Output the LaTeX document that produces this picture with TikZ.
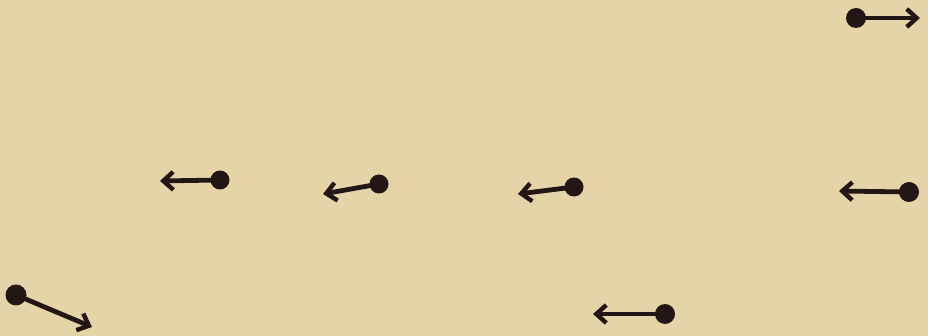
\documentclass[tikz,border=0pt]{standalone}
\usetikzlibrary{arrows.meta}
\definecolor{paper}{HTML}{E6D4A9}
\definecolor{ink}{HTML}{221714}
\begin{document}
\begin{tikzpicture}[x=1pt,y=-1pt,
  dotnode/.style={circle,fill=ink,inner sep=0pt,minimum size=#1},
  dotnode/.default=20pt,
  vec/.style={draw=ink,line width=4.8pt,-{Straight Barb[length=10pt,width=18pt,line width=4.4pt]}}]
\fill[paper] (0,0) rectangle (928,336);
\useasboundingbox (0,0) rectangle (928,336);
% dots
\node[dotnode] (d1) at (856,18) {};
\node[dotnode=19pt] (d2) at (220,180) {};
\node[dotnode=21pt] (d3) at (16,295) {};
\node[dotnode] (d4) at (665,314) {};
\node[dotnode=19pt] (d5) at (379,184) {};
\node[dotnode=19pt] (d6) at (574,187) {};
\node[dotnode] (d7) at (909,192) {};
% tips
\coordinate (t1) at (920,18);
\coordinate (t2) at (160,181);
\coordinate (t3) at (92,327);
\coordinate (t4) at (593,314);
\coordinate (t5) at (323,194);
\coordinate (t6) at (518,194);
\coordinate (t7) at (839,191);
\foreach \i in {1,...,7}{\draw[vec] (d\i.center) -- (t\i);}
\end{tikzpicture}
\end{document}
